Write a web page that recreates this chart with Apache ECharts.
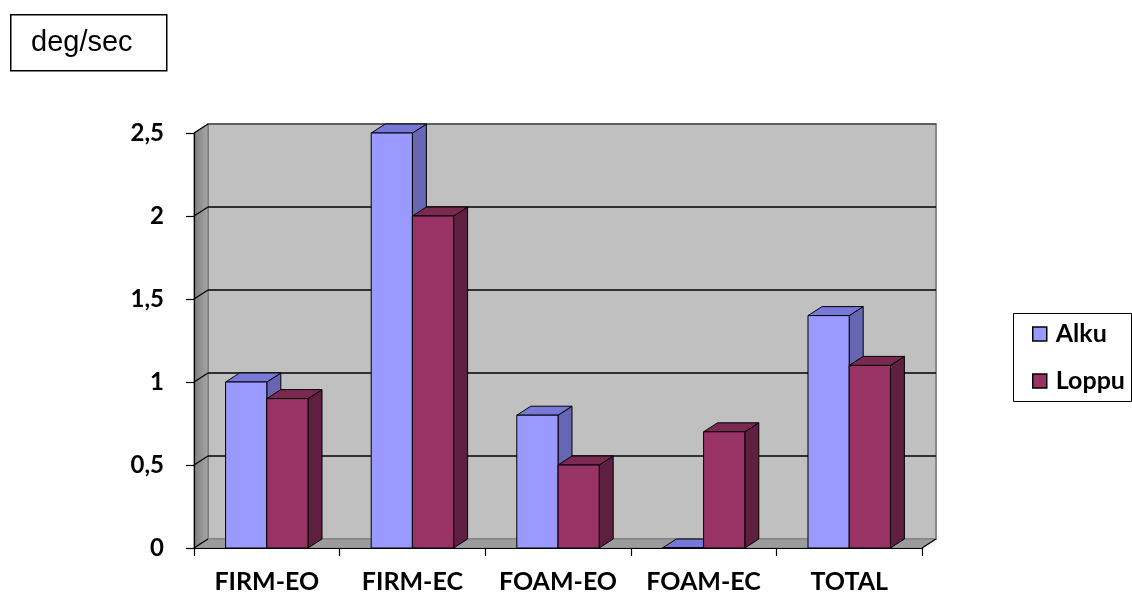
<!DOCTYPE html>
<html><head><meta charset="utf-8">
<script src="https://cdn.jsdelivr.net/npm/echarts@6/dist/echarts.min.js"></script>
<style>html,body{margin:0;padding:0;background:#fff}#c{width:1132px;height:594px}</style>
</head><body><div id="c"></div>
<script>
// ---- data ----
const categories = ['FIRM-EO', 'FIRM-EC', 'FOAM-EO', 'FOAM-EC', 'TOTAL'];
const alku = [1.0, 2.5, 0.8, 0, 1.4];
const loppu = [0.9, 2.0, 0.5, 0.7, 1.1];
const yTicks = [0, 0.5, 1, 1.5, 2, 2.5];
const seriesNames = ['Alku', 'Loppu'];
const unitLabel = 'deg/sec';

// ---- style ----
const DX = 14, DY = 9;
const BAR_FRAC = 0.283;
const FONT = 'Lato';
const palettes = {
  Alku: { front: '#9999ff', side: '#6666b3', top: '#7878d8' },
  Loppu: { front: '#993366', side: '#5e1f40', top: '#7a2950' }
};
const yMin = yTicks[0], yMax = yTicks[yTicks.length - 1], yStep = yTicks[1] - yTicks[0];

function barRenderer(pal, slot) {
  return function (params, api) {
    const ci = api.value(0), v = api.value(1);
    const band = api.size([1, 0])[0];
    const w = band * BAR_FRAC;
    const c = api.coord([ci, v]);
    const b = api.coord([ci, 0]);
    const x0 = c[0] + (slot === 0 ? -w : 0);
    const x1 = x0 + w;
    const yt = c[1], yb = b[1];
    const ln = { stroke: '#000', lineWidth: 1 };
    return {
      type: 'group', children: [
        { type: 'polygon', shape: { points: [[x1, yb], [x1, yt], [x1 + DX, yt - DY], [x1 + DX, yb - DY]] }, style: Object.assign({ fill: pal.side }, ln) },
        { type: 'polygon', shape: { points: [[x0, yt], [x1, yt], [x1 + DX, yt - DY], [x0 + DX, yt - DY]] }, style: Object.assign({ fill: pal.top }, ln) },
        { type: 'rect', shape: { x: x0, y: yt, width: w, height: yb - yt }, style: Object.assign({ fill: pal.front }, ln) }
      ]
    };
  };
}

function wallRenderer(params, api) {
  const n = categories.length;
  const band = api.size([1, 0])[0];
  const L = api.coord([0, yMin])[0] - band / 2;
  const R = api.coord([n - 1, yMin])[0] + band / 2;
  const yb = api.coord([0, yMin])[1];
  const yt = api.coord([0, yMax])[1];
  const kids = [];
  kids.push({ type: 'rect', shape: { x: L + DX, y: yt - DY, width: R - L, height: yb - yt }, style: { fill: '#c0c0c0', stroke: '#8a8a8a', lineWidth: 2 } });
  kids.push({ type: 'polygon', shape: { points: [[L, yb], [L, yt], [L + DX, yt - DY], [L + DX, yb - DY]] },
    style: { fill: new echarts.graphic.LinearGradient(0, 0, 1, 0, [{ offset: 0, color: '#7c7c7c' }, { offset: 1, color: '#a8a8a8' }]), stroke: '#707070', lineWidth: 1 } });
  kids.push({ type: 'polygon', shape: { points: [[L, yb], [R, yb], [R + DX, yb - DY], [L + DX, yb - DY]] },
    style: { fill: '#9c9c9c', stroke: '#808080', lineWidth: 1 } });
  yTicks.forEach(function (t, i) {
    const y = api.coord([0, t])[1];
    const last = i === yTicks.length - 1;
    if (i > 0) {
      kids.push({ type: 'line', shape: { x1: L + DX, y1: y - DY, x2: R + DX, y2: y - DY }, style: { stroke: last ? '#505050' : '#000', lineWidth: 1.5 } });
    }
    kids.push({ type: 'line', shape: { x1: L, y1: y, x2: L + DX, y2: y - DY }, style: { stroke: '#000', lineWidth: 1.2 } });
  });
  kids.push({ type: 'line', shape: { x1: R, y1: yb, x2: R + DX, y2: yb - DY }, style: { stroke: '#000', lineWidth: 1.2 } });
  return { type: 'group', children: kids };
}

const chart = echarts.init(document.getElementById('c'), null, { renderer: 'canvas' });
chart.setOption({
  animation: false,
  backgroundColor: '#ffffff',
  grid: { left: 194, right: 210, top: 133, bottom: 46, containLabel: false },
  xAxis: {
    type: 'category', data: categories, boundaryGap: true, z: 10,
    axisLine: { lineStyle: { color: '#000', width: 1.2 } },
    axisTick: { show: true, interval: 0, length: 8, lineStyle: { color: '#000', width: 1.2 } },
    axisLabel: { interval: 0, hideOverlap: false, color: '#000', fontFamily: FONT, fontWeight: 'bold', fontSize: 25, margin: 21 },
    splitLine: { show: false }
  },
  yAxis: {
    type: 'value', min: yMin, max: yMax, interval: yStep, z: 10,
    axisLine: { show: true, lineStyle: { color: '#000', width: 1.2 } },
    axisTick: { show: true, length: 8, lineStyle: { color: '#000', width: 1.2 } },
    axisLabel: { color: '#000', fontFamily: FONT, fontWeight: 'bold', fontSize: 24, margin: 30,
      formatter: function (v) { return String(v).replace('.', ','); } },
    splitLine: { show: false }
  },
  legend: {
    orient: 'vertical', left: 1027, top: 316,
    itemWidth: 14, itemHeight: 14, itemGap: 21,
    data: seriesNames.map(function (s) { return { name: s, icon: 'rect' }; }),
    itemStyle: { borderColor: '#000', borderWidth: 1.5 },
    textStyle: { color: '#000', fontFamily: FONT, fontWeight: 'bold', fontSize: 25, lineHeight: 26, padding: [0, 0, 0, 4] }
  },
  graphic: [
    { type: 'rect', left: 10, top: 14, shape: { width: 156, height: 56 }, style: { fill: '#fff', stroke: '#000', lineWidth: 1.5 } },
    { type: 'text', x: 31, y: 43, style: { text: unitLabel, fill: '#000', verticalAlign: 'middle', font: '29px "Liberation Sans", Arial, sans-serif' } },
    { type: 'rect', left: 1013, top: 313, shape: { width: 118, height: 88 }, style: { fill: 'rgba(0,0,0,0)', stroke: '#000', lineWidth: 1 } }
  ],
  series: [
    { type: 'custom', name: '_walls', silent: true, z: 1, clip: false, renderItem: wallRenderer, data: [[0, 0]] },
    { type: 'custom', name: seriesNames[0], z: 2, clip: false, itemStyle: { color: palettes.Alku.front },
      renderItem: barRenderer(palettes.Alku, 0), data: alku.map(function (v, i) { return [i, v]; }) },
    { type: 'custom', name: seriesNames[1], z: 3, clip: false, itemStyle: { color: palettes.Loppu.front },
      renderItem: barRenderer(palettes.Loppu, 1), data: loppu.map(function (v, i) { return [i, v]; }) }
  ]
});
</script>
</body></html>
